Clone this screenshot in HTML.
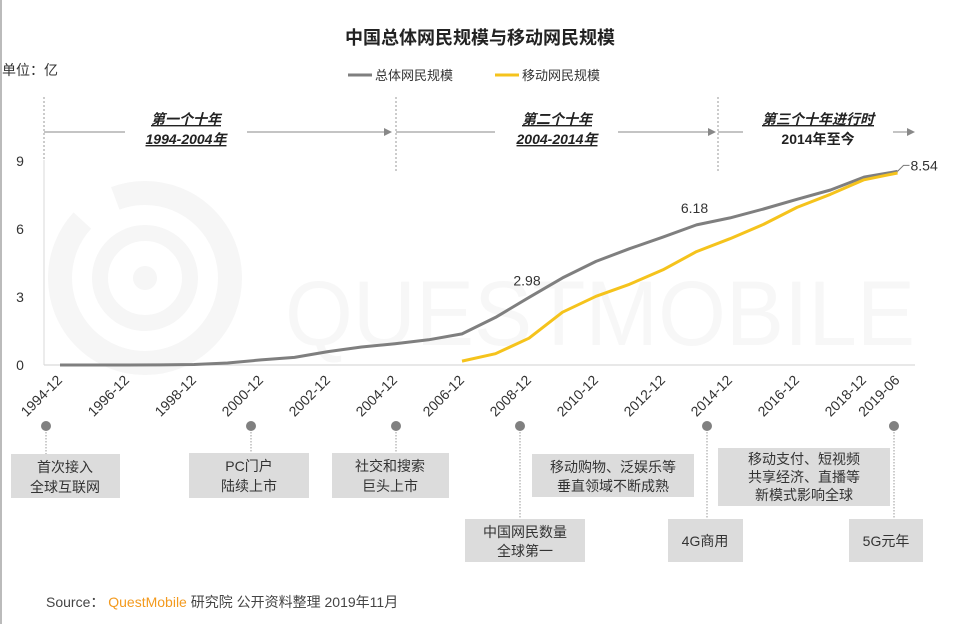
<!DOCTYPE html>
<html><head><meta charset="utf-8">
<style>
body{margin:0;background:#fff;}
svg{display:block;font-family:"Liberation Sans","Noto Sans CJK SC",sans-serif;}
</style></head>
<body>
<svg id="c" width="960" height="624" viewBox="0 0 960 624">
<rect x="0" y="0" width="960" height="624" fill="#fff"/>
<line x1="1" y1="0" x2="1" y2="624" stroke="#bbb" stroke-width="2"/>
<g fill="none" stroke="#f6f6f6">
<circle cx="145" cy="278" r="85" stroke-width="24" stroke-dasharray="330 40"/>
<circle cx="145" cy="278" r="45" stroke-width="16"/>
<circle cx="145" cy="278" r="12" fill="#f6f6f6" stroke="none"/>
<text x="285" y="345" font-size="92" fill="#f7f7f7" stroke="none" textLength="630" lengthAdjust="spacingAndGlyphs">QUESTMOBILE</text>
</g>
<text x="480" y="44" text-anchor="middle" font-size="18" font-weight="bold" fill="#222">中国总体网民规模与移动网民规模</text>
<text x="2" y="75" font-size="14" fill="#333">单位：亿</text>
<g>
<line x1="348" y1="75" x2="372" y2="75" stroke="#7f7f7f" stroke-width="3"/>
<text x="375" y="80" font-size="13" fill="#333">总体网民规模</text>
<line x1="495" y1="75" x2="519" y2="75" stroke="#f5c31c" stroke-width="3"/>
<text x="522" y="80" font-size="13" fill="#333">移动网民规模</text>
</g>
<g font-size="14" font-weight="bold" fill="#222" text-anchor="middle">
<line x1="44" y1="97" x2="44" y2="173" stroke="#999" stroke-dasharray="2 2"/>
<line x1="396" y1="97" x2="396" y2="173" stroke="#999" stroke-dasharray="2 2"/>
<line x1="718" y1="97" x2="718" y2="173" stroke="#999" stroke-dasharray="2 2"/>
<g stroke="#888" stroke-width="1">
<line x1="44" y1="132" x2="125" y2="132"/><line x1="247" y1="132" x2="386" y2="132"/>
<line x1="396" y1="132" x2="495" y2="132"/><line x1="618" y1="132" x2="710" y2="132"/>
<line x1="718" y1="132" x2="743" y2="132"/><line x1="893" y1="132" x2="908" y2="132"/>
</g>
<g fill="#888"><polygon points="384,128 392,132 384,136"/><polygon points="708,128 716,132 708,136"/><polygon points="907,128 915,132 907,136"/></g>
<text x="186" y="124" font-style="italic" text-decoration="underline">第一个十年</text>
<text x="186" y="144" font-style="italic" text-decoration="underline">1994-2004年</text>
<text x="557" y="124" font-style="italic" text-decoration="underline">第二个十年</text>
<text x="557" y="144" font-style="italic" text-decoration="underline">2004-2014年</text>
<text x="818" y="124" font-style="italic" text-decoration="underline">第三个十年进行时</text>
<text x="818" y="144">2014年至今</text>
</g>
<g id="axes"></g>
<g id="marks"></g>
<g font-size="14" fill="#333" text-anchor="middle">
<g stroke="#999" stroke-dasharray="1.5 1.5">
<line x1="46" y1="426" x2="46" y2="454"/><line x1="251" y1="426" x2="251" y2="453"/>
<line x1="396" y1="426" x2="396" y2="453"/><line x1="520" y1="426" x2="520" y2="519"/>
<line x1="707" y1="426" x2="707" y2="519"/><line x1="894" y1="426" x2="894" y2="519"/>
</g>
<g fill="#808080">
<circle cx="46" cy="426" r="5"/>
<circle cx="251" cy="426" r="5"/>
<circle cx="396" cy="426" r="5"/>
<circle cx="520" cy="426" r="5"/>
<circle cx="707" cy="426" r="5"/>
<circle cx="894" cy="426" r="5"/>
</g>
<g fill="#dcdcdc">
<rect x="11" y="454" width="109" height="44"/><rect x="189" y="453" width="120" height="45"/>
<rect x="332" y="453" width="117" height="45"/><rect x="465" y="519" width="120" height="43"/>
<rect x="532" y="454" width="162" height="43"/><rect x="668" y="519" width="75" height="43"/>
<rect x="718" y="448" width="172" height="58"/><rect x="849" y="519" width="74" height="43"/>
</g>
<text x="65" y="472">首次接入</text><text x="65" y="492">全球互联网</text>
<text x="249" y="471">PC门户</text><text x="249" y="491">陆续上市</text>
<text x="390" y="471">社交和搜索</text><text x="390" y="491">巨头上市</text>
<text x="525" y="537">中国网民数量</text><text x="525" y="556">全球第一</text>
<text x="613" y="472">移动购物、泛娱乐等</text><text x="613" y="491">垂直领域不断成熟</text>
<text x="705" y="546">4G商用</text>
<text x="804" y="464">移动支付、短视频</text><text x="804" y="482">共享经济、直播等</text><text x="804" y="500">新模式影响全球</text>
<text x="886" y="546">5G元年</text>
</g>
<text x="46" y="607" font-size="14" fill="#444">Source： <tspan fill="#f39a1e">QuestMobile</tspan> 研究院 公开资料整理 2019年11月</text>
<script>
const categories=["1994-12","1995-12","1996-12","1997-12","1998-12","1999-12","2000-12","2001-12","2002-12","2003-12","2004-12","2005-12","2006-12","2007-12","2008-12","2009-12","2010-12","2011-12","2012-12","2013-12","2014-12","2015-12","2016-12","2017-12","2018-12","2019-06"];
const totalUsers=[0.0,0.0004,0.002,0.0062,0.021,0.089,0.225,0.337,0.591,0.795,0.94,1.11,1.37,2.10,2.98,3.84,4.57,5.13,5.64,6.18,6.49,6.88,7.31,7.72,8.29,8.54];
const mobileUsers=[null,null,null,null,null,null,null,null,null,null,null,null,0.17,0.50,1.18,2.33,3.03,3.56,4.20,5.00,5.57,6.20,6.95,7.53,8.17,8.47];
const yTicks=[0,3,6,9];
const tickLabels=["1994-12","1996-12","1998-12","2000-12","2002-12","2004-12","2006-12","2008-12","2010-12","2012-12","2014-12","2016-12","2018-12","2019-06"];
const valueLabels={"2008-12":"2.98","2013-12":"6.18"};

const NS="http://www.w3.org/2000/svg";
const x=i=>60+i*33.5;
const y=v=>365-v*22.67;
function mk(p,t,a){const e=document.createElementNS(NS,t);for(const k in a)e.setAttribute(k,a[k]);p.appendChild(e);return e;}
const ax=document.getElementById('axes'),mg=document.getElementById('marks');
let e=mk(ax,'line',{x1:44,y1:365,x2:915,y2:365,stroke:'#d0d0d0'});


e=mk(ax,'line',{x1:44,y1:160,x2:44,y2:365,stroke:'#d8d8d8'});


yTicks.forEach(t=>{const el=mk(ax,'text',{x:20,y:y(t)+5,'text-anchor':'middle','font-size':14,fill:'#333'});el.textContent=t;

});
tickLabels.forEach(c=>{const i=categories.indexOf(c);const px=x(i)+3,py=381;
const el=mk(ax,'text',{x:px,y:py,'text-anchor':'end','font-size':14,fill:'#333',transform:`rotate(-45 ${px} ${py})`});el.textContent=c;

});
function path(vals){let d='';vals.forEach((v,i)=>{if(v==null)return;d+=(d?'L':'M')+x(i).toFixed(1)+','+y(v).toFixed(1);});return d;}
e=mk(mg,'path',{d:path(totalUsers),fill:'none',stroke:'#7f7f7f','stroke-width':3,'stroke-linejoin':'round'});


e=mk(mg,'path',{d:path(mobileUsers),fill:'none',stroke:'#f5c31c','stroke-width':3,'stroke-linejoin':'round'});


for(const c in valueLabels){const i=categories.indexOf(c);const el=mk(mg,'text',{x:x(i)-2,y:y(totalUsers[i])-12,'text-anchor':'middle','font-size':14,fill:'#333'});el.textContent=valueLabels[c];

}
const li=categories.length-1;
mk(mg,'polyline',{points:`${x(li)},${y(totalUsers[li])} ${x(li)+6},${y(totalUsers[li])-6} ${x(li)+12},${y(totalUsers[li])-6}`,fill:'none',stroke:'#777'});
e=mk(mg,'text',{x:x(li)+13,y:y(totalUsers[li])-1,'font-size':14,fill:'#333'});e.textContent=totalUsers[li].toFixed(2);


</script>
</svg>
</body></html>
